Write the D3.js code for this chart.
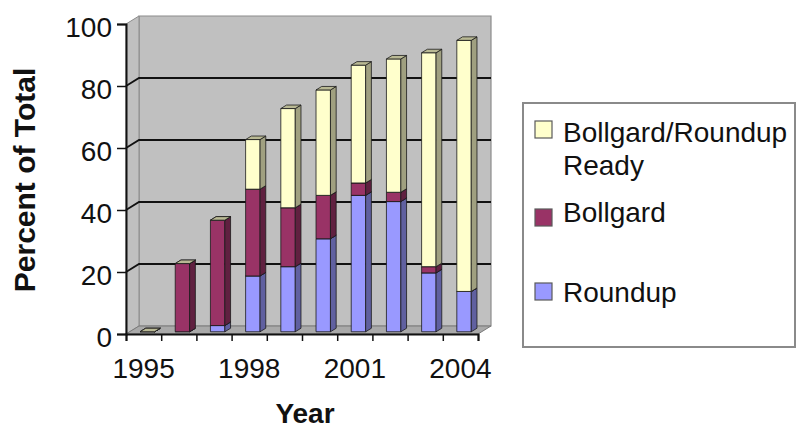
<!DOCTYPE html>
<html>
<head>
<meta charset="utf-8">
<script src="https://cdn.jsdelivr.net/npm/d3@7"></script>
<style>
  body { margin: 0; background: #fff; }
  text { font-family: "Liberation Sans", Arial, sans-serif; fill: #111; }
</style>
</head>
<body>
<div id="chart"></div>
<script>
// data
const years = [1995, 1996, 1997, 1998, 1999, 2000, 2001, 2002, 2003, 2004];
const roundup = [0, 0, 2, 18, 21, 30, 44, 42, 19, 13];
const bollgard = [0, 22, 34, 28, 19, 14, 4, 3, 2, 0];
const bollgardRoundup = [0, 0, 0, 16, 32, 34, 38, 43, 69, 81];
const seriesKeys = ["Roundup", "Bollgard", "Bollgard/Roundup Ready"];
const yTicks = [0, 20, 40, 60, 80, 100];
const xLabels = [1995, 1998, 2001, 2004];

const colors = {
    "Roundup": "#9999ff",
    "Bollgard": "#993366",
    "Bollgard/Roundup Ready": "#ffffcc"
};

const W = 797, H = 430;
const svg = d3.select("#chart").append("svg")
    .attr("width", W)
    .attr("height", H);

const x = d3.scaleBand().domain(years).range([126, 478]);
const y = d3.scaleLinear().domain([0, 100]).range([334, 24]);

// 3d depth of the plot box
const dx = 13, dy = -8;
const x0 = x.range()[0], x1 = x.range()[1];
const pts = p => p.map(d => d.join(",")).join(" ");

// walls and floor
const walls = svg.append("g");
walls.append("polygon")
    .attr("points", pts([[x0 + dx, y(100) + dy], [x1 + dx, y(100) + dy], [x1 + dx, y(0) + dy], [x0 + dx, y(0) + dy]]))
    .attr("fill", "#c0c0c0").attr("stroke", "#8c8c8c").attr("stroke-width", 1.2);
walls.append("polygon")
    .attr("points", pts([[x0, y(100)], [x0 + dx, y(100) + dy], [x0 + dx, y(0) + dy], [x0, y(0)]]))
    .attr("fill", "#c0c0c0").attr("stroke", "#8c8c8c").attr("stroke-width", 1);
walls.append("polygon")
    .attr("points", pts([[x0, y(0)], [x1, y(0)], [x1 + dx, y(0) + dy], [x0 + dx, y(0) + dy]]))
    .attr("fill", "#a9a9a9").attr("stroke", "#7a7a7a").attr("stroke-width", 1);

// gridlines on back and side wall
walls.selectAll("path.grid")
    .data(yTicks.filter(v => v > 0 && v < 100))
    .enter().append("path")
    .attr("class", "grid")
    .attr("d", v => `M${x0},${y(v)} L${x0 + dx},${y(v) + dy} L${x1 + dx},${y(v) + dy}`)
    .attr("fill", "none")
    .attr("stroke", "#111")
    .attr("stroke-width", 1.8);

// stacked 3d columns
const rows = years.map((yr, i) => ({
    year: yr,
    "Roundup": roundup[i],
    "Bollgard": bollgard[i],
    "Bollgard/Roundup Ready": bollgardRoundup[i]
}));
const stacked = d3.stack().keys(seriesKeys)(rows);

const a = 0.28, b = 0.72;          // front / back of the columns inside the depth
const fox = a * dx, foy = a * dy;
const sx = (b - a) * dx, sy = (b - a) * dy;
const barW = x.bandwidth() * 0.41;

const shade = (c, k) => d3.rgb(c).darker(k).formatHex();

const bars = svg.append("g");
years.forEach((yr, i) => {
    const fx = x(yr) + x.bandwidth() / 2 - barW / 2 + fox;
    stacked.forEach(layer => {
        const d = layer[i];
        const col = colors[layer.key];
        const yb = y(d[0]) + foy, yt = y(d[1]) + foy;
        const seg = bars.append("g")
            .attr("stroke", "#1a1a1a")
            .attr("stroke-width", 0.8)
            .attr("stroke-linejoin", "round");
        seg.append("rect")
            .attr("x", fx).attr("y", yt)
            .attr("width", barW).attr("height", yb - yt)
            .attr("fill", col);
        seg.append("polygon")
            .attr("points", pts([[fx + barW, yt], [fx + barW + sx, yt + sy], [fx + barW + sx, yb + sy], [fx + barW, yb]]))
            .attr("fill", shade(col, 1.3));
        seg.append("polygon")
            .attr("points", pts([[fx, yt], [fx + barW, yt], [fx + barW + sx, yt + sy], [fx + sx, yt + sy]]))
            .attr("fill", shade(col, 0.9));
    });
});

// y axis
const yAxis = svg.append("g")
    .attr("transform", `translate(${x0},0)`)
    .call(d3.axisLeft(y).tickValues(yTicks).tickSize(9).tickPadding(5));
yAxis.select(".domain").attr("stroke", "#111").attr("stroke-width", 2);
yAxis.selectAll(".tick line").attr("stroke", "#111").attr("stroke-width", 1.5);
yAxis.selectAll(".tick text")
    .attr("dy", "0.45em")
    .style("font-size", "28px")
    .attr("fill", "#222");

// x axis: ticks on the category boundaries
const xEdges = d3.scaleLinear().domain([0, years.length]).range(x.range());
const xTickAxis = svg.append("g")
    .attr("transform", `translate(0,${y(0)})`)
    .call(d3.axisBottom(xEdges).ticks(years.length).tickSize(7).tickFormat(""));
xTickAxis.select(".domain").attr("stroke", "#111").attr("stroke-width", 2);
xTickAxis.selectAll(".tick line").attr("stroke", "#111").attr("stroke-width", 1.5);

const xLabelAxis = svg.append("g")
    .attr("transform", `translate(0,${y(0)})`)
    .call(d3.axisBottom(x).tickValues(xLabels).tickSize(0).tickPadding(24));
xLabelAxis.select(".domain").remove();
xLabelAxis.selectAll(".tick text")
    .style("font-size", "28px")
    .attr("fill", "#222");

// axis titles
svg.append("text")
    .attr("transform", "translate(34.5,180) rotate(-90)")
    .attr("text-anchor", "middle")
    .style("font-size", "30px")
    .style("font-weight", "bold")
    .text("Percent of Total");

svg.append("text")
    .attr("x", 305).attr("y", 423)
    .attr("text-anchor", "middle")
    .style("font-size", "28px")
    .style("font-weight", "bold")
    .text("Year");

// legend
const legend = svg.append("g");
legend.append("rect")
    .attr("x", 523).attr("y", 103)
    .attr("width", 272).attr("height", 244)
    .attr("fill", "#fff")
    .attr("stroke", "#8a8a8a")
    .attr("stroke-width", 2);

const legendItems = [
    { key: "Bollgard/Roundup Ready", lines: ["Bollgard/Roundup", "Ready"], sy: 121, ty: 142 },
    { key: "Bollgard", lines: ["Bollgard"], sy: 209, ty: 222 },
    { key: "Roundup", lines: ["Roundup"], sy: 283, ty: 302 }
];
legendItems.forEach(it => {
    legend.append("rect")
        .attr("x", 535).attr("y", it.sy)
        .attr("width", 17).attr("height", 17)
        .attr("fill", colors[it.key])
        .attr("stroke", "#5a5a5a")
        .attr("stroke-width", 1.2);
    const t = legend.append("text")
        .attr("x", 563).attr("y", it.ty)
        .style("font-size", "28px")
        .attr("fill", "#222");
    it.lines.forEach((ln, j) => {
        t.append("tspan")
            .attr("x", 563)
            .attr("dy", j === 0 ? 0 : 33)
            .text(ln);
    });
});
</script>
</body>
</html>
